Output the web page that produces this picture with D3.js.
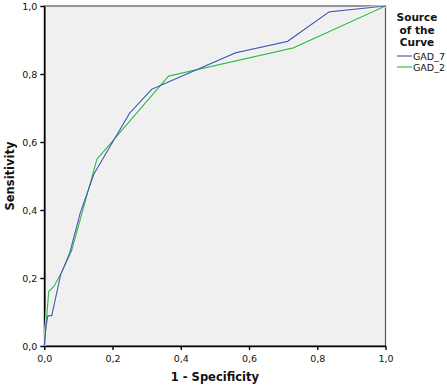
<!DOCTYPE html>
<html><head><meta charset="utf-8">
<script src="https://cdn.jsdelivr.net/npm/d3@7"></script>
<style>body{margin:0;background:#fff;}svg{display:block;}</style>
</head><body>
<script>
const seriesNames = ["GAD_7", "GAD_2"];
const seriesColors = ["#4a5fb5", "#38bb4c"];
const gad7X = [0, 0.005, 0.01, 0.022, 0.048, 0.075, 0.105, 0.145, 0.25, 0.315, 0.56, 0.713, 0.835, 1];
const gad7Y = [0, 0.055, 0.088, 0.09, 0.21, 0.275, 0.39, 0.505, 0.685, 0.755, 0.862, 0.896, 0.983, 1];
const gad2X = [0, 0.004, 0.013, 0.028, 0.05, 0.08, 0.154, 0.364, 0.73, 1];
const gad2Y = [0, 0.05, 0.16, 0.175, 0.215, 0.28, 0.549, 0.794, 0.877, 1];
const tickValues = [0, 0.2, 0.4, 0.6, 0.8, 1.0];
const tickLabels = ["0,0", "0,2", "0,4", "0,6", "0,8", "1,0"];

const W = 447, H = 387;
const m = {left: 44.3, right: 447 - 385.5, top: 6, bottom: 387 - 346};
const svg = d3.select("body").append("svg").attr("width", W).attr("height", H);
const x = d3.scaleLinear().domain([0, 1]).range([m.left, W - m.right]);
const y = d3.scaleLinear().domain([0, 1]).range([H - m.bottom, m.top]);

svg.append("rect").attr("x", x(0)).attr("y", y(1)).attr("width", x(1) - x(0)).attr("height", y(0) - y(1))
  .attr("fill", "#f0f0f0").attr("stroke", "#555").attr("stroke-width", 1.2);

const font = "'DejaVu Sans', Verdana, sans-serif";
const fmt = d => tickLabels[tickValues.indexOf(d)];
const xAxis = svg.append("g").attr("transform", `translate(0,${y(0)})`)
  .call(d3.axisBottom(x).tickValues(tickValues).tickFormat(fmt).tickSize(4).tickSizeOuter(0));
const yAxis = svg.append("g").attr("transform", `translate(${x(0)},0)`)
  .call(d3.axisLeft(y).tickValues(tickValues).tickFormat(fmt).tickSize(4).tickSizeOuter(0));
[xAxis, yAxis].forEach(a => {
  a.select(".domain").attr("stroke", "#000").attr("stroke-width", 1.6);
  a.selectAll(".tick line").attr("stroke", "#000").attr("stroke-width", 1.4);
  a.selectAll("text").attr("font-family", font).attr("font-size", 9.5).attr("fill", "#111");
});
xAxis.selectAll("text").attr("dy", "0.9em");

const data = [gad7X.map((v, i) => [v, gad7Y[i]]), gad2X.map((v, i) => [v, gad2Y[i]])];
const line = d3.line().x(d => x(d[0])).y(d => y(d[1]));
[1, 0].forEach(i => {
  svg.append("path").attr("d", line(data[i])).attr("fill", "none")
    .attr("stroke", "#fff").attr("stroke-width", 3).attr("stroke-opacity", 0.6);
});
[1, 0].forEach(i => {
  svg.append("path").attr("d", line(data[i])).attr("fill", "none")
    .attr("stroke", seriesColors[i]).attr("stroke-width", 1.2);
});

svg.append("text").attr("x", (x(0) + x(1)) / 2).attr("y", 381).attr("text-anchor", "middle")
  .attr("font-family", font).attr("font-weight", "bold").attr("font-size", 11.5).attr("fill", "#111")
  .text("1 - Specificity");
svg.append("text").attr("transform", `translate(13.5,${(y(0) + y(1)) / 2}) rotate(-90)`).attr("text-anchor", "middle")
  .attr("font-family", font).attr("font-weight", "bold").attr("font-size", 11.5).attr("fill", "#111")
  .text("Sensitivity");

const lg = svg.append("g");
["Source", "of the", "Curve"].forEach((t, i) => {
  lg.append("text").attr("x", 417).attr("y", 21 + i * 12.5).attr("text-anchor", "middle")
    .attr("font-family", font).attr("font-weight", "bold").attr("font-size", 10.5).attr("fill", "#111").text(t);
});
seriesNames.forEach((n, i) => {
  const yy = 56 + i * 11;
  lg.append("line").attr("x1", 397).attr("x2", 412).attr("y1", yy).attr("y2", yy)
    .attr("stroke", seriesColors[i]).attr("stroke-width", 1.2);
  lg.append("text").attr("x", 413).attr("y", yy + 3.5).attr("font-family", font)
    .attr("font-size", 9.5).attr("fill", "#111").text(n);
});
</script>
</body></html>
